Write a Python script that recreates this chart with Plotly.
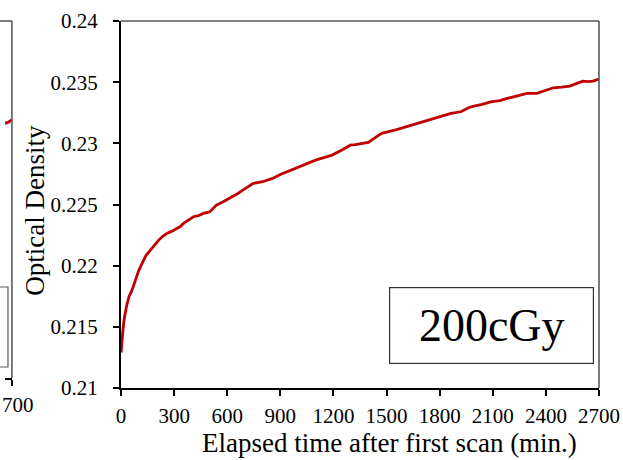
import plotly.graph_objects as go

# Optical density of the film vs. time elapsed after the first scan (200 cGy)
elapsed_min = [0, 2, 10, 17, 30, 45, 62, 82, 100, 119, 140, 166, 190, 213, 236, 259,
               285, 315, 335, 353, 380, 409, 440, 465, 502, 539, 577, 600, 632, 660,
               688, 745, 800, 856, 900, 950, 1024, 1060, 1099, 1150, 1192, 1248, 1295,
               1323, 1397, 1440, 1472, 1547, 1621, 1696, 1771, 1820, 1864, 1920, 1966,
               1994, 2040, 2088, 2140, 2181, 2240, 2293, 2349, 2400, 2442, 2490, 2535,
               2575, 2610, 2640, 2666, 2700]
optical_density = [0.2129, 0.2131, 0.2146, 0.21556, 0.2166, 0.21746, 0.2180, 0.21882,
                   0.2196, 0.22019, 0.2208, 0.22127, 0.2217, 0.22209, 0.2224, 0.22264,
                   0.2228, 0.22305, 0.2232, 0.22345, 0.2237, 0.22400, 0.2241, 0.22427,
                   0.2244, 0.22495, 0.22522, 0.2254, 0.22563, 0.2259, 0.22618, 0.22672,
                   0.22686, 0.22713, 0.22745, 0.22776, 0.22822, 0.22840, 0.22863, 0.22885,
                   0.22904, 0.22945, 0.22985, 0.22990, 0.23007, 0.23050, 0.23081, 0.23108,
                   0.23140, 0.23168, 0.23203, 0.23225, 0.23244, 0.23258, 0.23293, 0.23304,
                   0.23318, 0.23339, 0.23350, 0.23367, 0.23390, 0.23408, 0.23408, 0.23430,
                   0.23454, 0.23460, 0.23468, 0.23490, 0.23508, 0.23505, 0.23508, 0.23525]

# Tail of the neighbouring panel's curve
prev_elapsed_min = [2660, 2680, 2700]
prev_optical_density = [0.1814, 0.1815, 0.1817]
prev_tick_tail = "700"

x_ticks = [0, 300, 600, 900, 1200, 1500, 1800, 2100, 2400, 2700]
y_ticks = [0.21, 0.215, 0.22, 0.225, 0.23, 0.235, 0.24]
y_tick_text = ["0.21", "0.215", "0.22", "0.225", "0.23", "0.235", "0.24"]

dose_label = "200cGy"
x_title = "Elapsed time after first scan (min.)"
y_title = "Optical Density"

W, H = 623, 460
ML, MR, MT, MB = 0, 24, 21, 72
PW = W - ML - MR
PH = H - MT - MB

FONT = "Liberation Serif, Times New Roman, serif"
RED = "#C00000"
GRAY = "#5a5a5a"
TICK_SIZE = 21
TITLE_SIZE = 27


def px_x(p):
    return (p - ML) / PW


def px_y(p):
    return (H - MB - p) / PH


fig = go.Figure()

fig.add_trace(go.Scatter(x=elapsed_min, y=optical_density, mode="lines",
                         line=dict(color=RED, width=2.8), xaxis="x", yaxis="y",
                         showlegend=False, hoverinfo="skip"))
fig.add_trace(go.Scatter(x=prev_elapsed_min, y=prev_optical_density, mode="lines",
                         line=dict(color=RED, width=2.8), xaxis="x2", yaxis="y2",
                         showlegend=False, hoverinfo="skip", cliponaxis=False))

axis_common = dict(showgrid=False, zeroline=False, ticks="outside", ticklen=6,
                   tickwidth=2, tickcolor="black", linecolor="black", linewidth=2,
                   tickfont=dict(family=FONT, size=TICK_SIZE, color="black"),
                   showline=True)

fig.update_layout(
    width=W, height=H,
    margin=dict(l=ML, r=MR, t=MT, b=MB),
    paper_bgcolor="white", plot_bgcolor="white",
    xaxis=dict(domain=[px_x(117), 1], range=[0, 2700], tickvals=x_ticks,
               anchor="y", ticklabelstandoff=2, **axis_common),
    yaxis=dict(domain=[0, 1], range=[0.21, 0.24], tickvals=y_ticks,
               ticktext=y_tick_text, anchor="x", ticklabelstandoff=11, **axis_common),
    xaxis2=dict(domain=[0, px_x(7)], range=[2660, 2700], tickvals=[2700],
                showticklabels=False, anchor="y2", **axis_common),
    yaxis2=dict(domain=[px_y(378), 1], range=[0.16, 0.19], anchor="x2",
                showgrid=False, zeroline=False, showline=False,
                showticklabels=False, ticks=""),
)

shapes = [
    # top and right frame of the main panel
    dict(type="line", xref="x domain", yref="y domain", x0=0, x1=1, y0=1, y1=1,
         line=dict(color=GRAY, width=1.6)),
    dict(type="line", xref="x domain", yref="y domain", x0=1, x1=1, y0=0, y1=1,
         line=dict(color=GRAY, width=1.6)),
    # top and right frame of the neighbouring panel
    dict(type="line", xref="x2 domain", yref="y2 domain", x0=-1, x1=1, y0=1, y1=1,
         line=dict(color=GRAY, width=1.6)),
    dict(type="line", xref="x2 domain", yref="y2 domain", x0=1, x1=1, y0=0, y1=1,
         line=dict(color=GRAY, width=1.6)),
    # label box of the neighbouring panel
    dict(type="rect", xref="paper", yref="paper", x0=px_x(-60), x1=px_x(3),
         y0=px_y(367), y1=px_y(287), line=dict(color=GRAY, width=1.2)),
]
fig.update_layout(shapes=shapes)

# visible tail of the neighbouring panel's last tick label
fig.add_annotation(text=prev_tick_tail, xref="paper", yref="paper",
                   x=px_x(-4), y=px_y(405), xanchor="left",
                   yanchor="middle", showarrow=False, borderpad=0,
                   font=dict(family=FONT, size=TICK_SIZE, color="black"))

fig.add_annotation(text=dose_label, xref="paper", yref="paper",
                   x=px_x(490.5), y=px_y(325.5), xanchor="center", yanchor="middle",
                   showarrow=False, font=dict(family=FONT, size=46, color="black"),
                   bordercolor="#333333", borderwidth=1.2, borderpad=0,
                   width=203, height=75, bgcolor="white")
fig.add_annotation(text=x_title, xref="paper", yref="paper",
                   x=px_x(388), y=px_y(443), xanchor="center", yanchor="middle",
                   showarrow=False, font=dict(family=FONT, size=TITLE_SIZE, color="black"))
fig.add_annotation(text=y_title, xref="paper", yref="paper",
                   x=px_x(30), y=px_y(210), xanchor="center", yanchor="middle",
                   textangle=-90, showarrow=False,
                   font=dict(family=FONT, size=TITLE_SIZE, color="black"))

fig.write_html("out.html")
